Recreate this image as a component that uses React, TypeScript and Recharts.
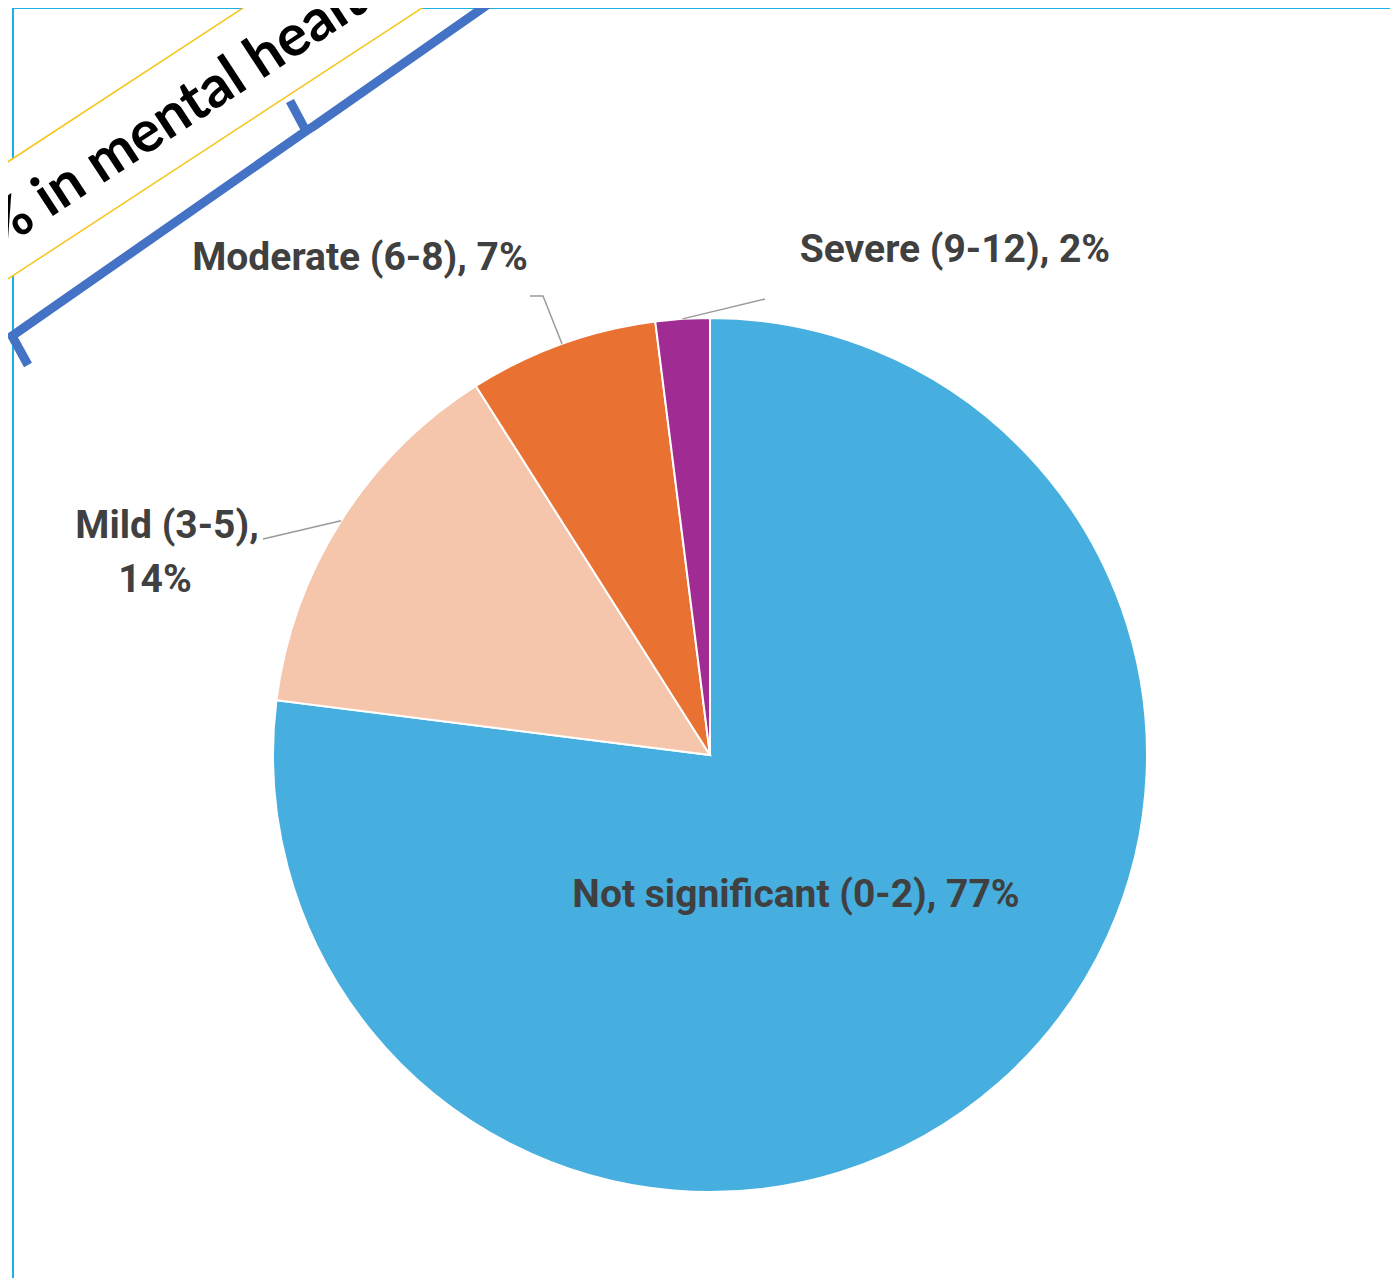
import React from "react";
import { PieChart, Pie, Cell } from "recharts";

const categories = [
  "Not significant (0-2)",
  "Mild (3-5)",
  "Moderate (6-8)",
  "Severe (9-12)",
];
const shares = [77, 14, 7, 2];
const colors = ["#47AFDF", "#F5C6AC", "#E97132", "#A02B93"];

const bannerText = "% in mental health";

const data = categories.map((name, i) => ({ name, value: shares[i] }));

// label anchors, relative to the pie centre
const labelSpots: Record<string, { x: number; y: number; leader?: number[][] }> = {
  "Not significant (0-2)": { x: 86, y: 152 },
  "Mild (3-5)": { x: -548, y: -217, leader: [[-447, -216]] },
  "Moderate (6-8)": { x: -350, y: -485, leader: [[-167, -459], [-180, -459]] },
  "Severe (9-12)": { x: 245, y: -493, leader: [[55, -456]] },
};

const RADIAN = Math.PI / 180;
const labelFont = "Roboto, sans-serif";

function renderLabel(props: any) {
  const { cx, cy, midAngle, outerRadius, name, value } = props;
  const spot = labelSpots[name];
  if (!spot) return null;
  const ex = cx + outerRadius * Math.cos(-midAngle * RADIAN);
  const ey = cy + outerRadius * Math.sin(-midAngle * RADIAN);
  const pts = [[ex, ey], ...(spot.leader || []).map(([dx, dy]) => [cx + dx, cy + dy])];
  const text = `${name}, ${value}%`;
  return (
    <g key={name}>
      {spot.leader && (
        <polyline
          points={pts.map((p) => p.join(",")).join(" ")}
          fill="none"
          stroke="#9a9a9a"
          strokeWidth={1.5}
        />
      )}
      {name === "Mild (3-5)" ? (
        <text
          x={cx + spot.x}
          y={cy + spot.y}
          textAnchor="middle"
          fill="#404040"
          fontSize={39}
          fontWeight={700}
          fontFamily={labelFont}
        >
          <tspan x={cx + spot.x + 5}>{name},</tspan>
          <tspan x={cx + spot.x - 7} dy={54}>
            {value}%
          </tspan>
        </text>
      ) : (
        <text
          x={cx + spot.x}
          y={cy + spot.y}
          textAnchor="middle"
          fill="#404040"
          fontSize={39}
          fontWeight={700}
          fontFamily={labelFont}
        >
          {text}
        </text>
      )}
    </g>
  );
}

export default function App() {
  return (
    <div
      style={{
        position: "relative",
        width: 1398,
        height: 1286,
        margin: -8,
        background: "#ffffff",
        overflow: "hidden",
      }}
    >
      <svg
        width={1398}
        height={1286}
        style={{ position: "absolute", left: 0, top: 0 }}
      >
        <line x1={13} y1={8} x2={1398} y2={8} stroke="#1DAFE6" strokeWidth={2} />
        <line x1={13} y1={8} x2={13} y2={1286} stroke="#1DAFE6" strokeWidth={2} />
        <line x1={13} y1={1285} x2={1398} y2={1285} stroke="#e2e2e2" strokeWidth={2} />
      </svg>
      <div style={{ position: "absolute", left: 0, top: 0 }}>
        <PieChart
          width={1398}
          height={1286}
          margin={{ top: 0, right: 0, bottom: 0, left: 0 }}
        >
          <Pie
            data={data}
            dataKey="value"
            nameKey="name"
            cx={710}
            cy={755}
            outerRadius={437}
            startAngle={90}
            endAngle={-270}
            stroke="#ffffff"
            strokeWidth={2}
            label={renderLabel}
            labelLine={false}
            isAnimationActive={false}
          >
            {data.map((d, i) => (
              <Cell key={d.name} fill={colors[i]} />
            ))}
          </Pie>
        </PieChart>
      </div>
      {/* rotated banner in the top-left corner */}
      <svg
        width={1398}
        height={1286}
        style={{ position: "absolute", left: 0, top: 0, pointerEvents: "none" }}
      >
        <g transform="translate(0,167) rotate(-33.2)">
          <rect x={-200} y={0} width={900} height={98} fill="#ffffff" />
          <line x1={-200} y1={0} x2={700} y2={0} stroke="#F5C518" strokeWidth={1.5} />
          <line x1={-200} y1={98} x2={700} y2={98} stroke="#F5C518" strokeWidth={1.5} />
          <text
            x={-48}
            y={70}
            fontSize={58}
            fontWeight={700}
            fontFamily="Lato, 'Open Sans', sans-serif"
            fill="#000000"
          >
            {bannerText}
          </text>
        </g>
        <path
          d="M28 365 L12 336 L306 131 L290 101 M306 131 L314 126 L540 -32"
          fill="none"
          stroke="#4472C4"
          strokeWidth={9}
          strokeLinejoin="miter"
        />
      </svg>
    </div>
  );
}
